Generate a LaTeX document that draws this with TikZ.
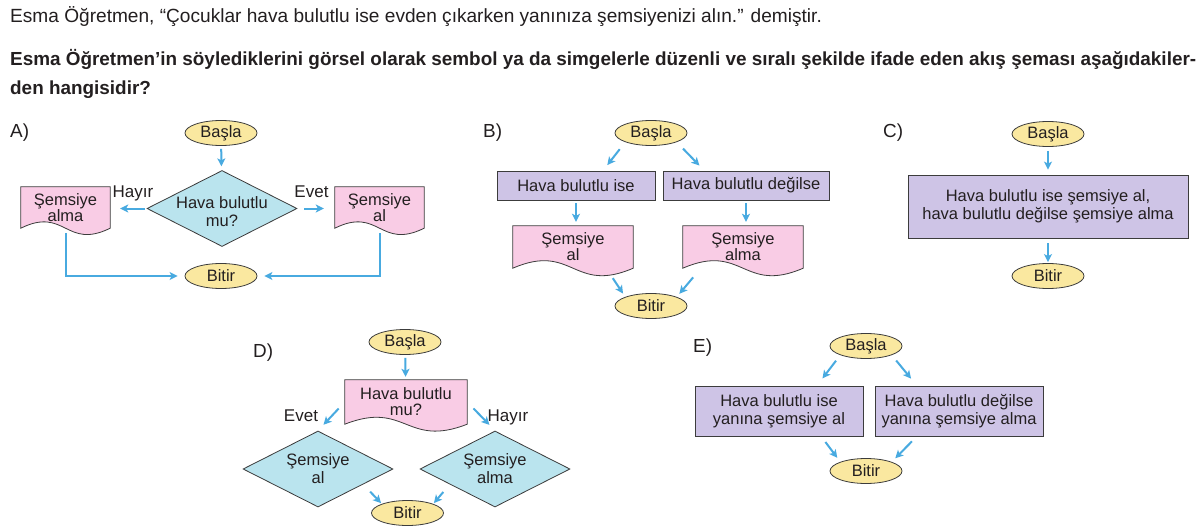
\documentclass[tikz,border=0pt]{standalone}
\usepackage{fontspec}
\setmainfont{Liberation Sans}
\usetikzlibrary{shapes.geometric,arrows.meta,calc}
\pgfdeclarelayer{background}
\pgfdeclarelayer{canvas}
\pgfsetlayers{canvas,background,main}
\definecolor{ellfill}{RGB}{250,232,160}
\definecolor{pinkfill}{RGB}{249,204,229}
\definecolor{bluefill}{RGB}{186,228,238}
\definecolor{purplefill}{RGB}{206,196,230}
\definecolor{arrblue}{RGB}{72,170,224}
\definecolor{edge}{RGB}{60,60,60}
\definecolor{txt}{RGB}{35,31,32}
\newcommand\docpath[2]{%
  \path[docline] (#1.south west) -- (#1.north west) -- (#1.north east) -- (#1.south east)
    .. controls ($(#1.south)+(0,#2)$) and ($(#1.south)+(0,-#2)$) .. (#1.south west) -- cycle;}
\begin{document}
\begin{tikzpicture}[x=1pt,y=-1pt,
  font=\fontsize{16.5}{18}\selectfont, text=txt,
  term/.style={ellipse, draw=edge, line width=0.8pt, fill=ellfill, minimum width=72, minimum height=25, inner sep=0pt},
  dec/.style={diamond, draw=edge, line width=0.8pt, fill=bluefill, minimum width=150, minimum height=76, inner sep=0pt},
  proc/.style={rectangle, draw=edge, line width=0.8pt, fill=purplefill, inner sep=0pt, align=center},
  docnode/.style={inner sep=0pt, align=center, font=\fontsize{16.5}{16}\selectfont},
  docline/.style={draw=edge, line width=0.8pt, fill=pinkfill},
  dectext/.style={align=center, inner sep=0pt, text=txt},
  lbl/.style={anchor=base, inner sep=0pt, font=\fontsize{17}{18}\selectfont},
  arr/.style={draw=arrblue, line width=2pt, -{Stealth[length=8pt,width=8pt,inset=2pt]}},
  hdr/.style={anchor=base west, inner sep=0pt, font=\fontsize{18.9}{20}\selectfont},
  hdrb/.style={hdr, font=\fontsize{18.9}{20}\selectfont\bfseries}
]
\begin{pgfonlayer}{canvas}
\fill[white] (0,0) rectangle (1204,532);
\end{pgfonlayer}
\useasboundingbox (0,0) rectangle (1204,532);

% header
\node[hdr, font=\fontsize{19.1}{20}\selectfont] (h1) at (10,23) {Esma Öğretmen, “Çocuklar hava bulutlu ise evden çıkarken yanınıza şemsiyenizi alın.” demiştir.};
\node[hdrb] (h2) at (10,66) {Esma Öğretmen’in söylediklerini görsel olarak sembol ya da simgelerle düzenli ve sıralı şekilde ifade eden akış şeması aşağıdakiler-};
\node[hdrb] (h3) at (10,95) {den hangisidir?};

% option labels
\node[hdr] (oa) at (10,137) {A)};
\node[hdr] (ob) at (483,137) {B)};
\node[hdr] (oc) at (883,137) {C)};
\node[hdr] (od) at (253,357) {D)};
\node[hdr] (oe) at (693,352) {E)};

% ---------- A ----------
\node[term] (aS) at (221,133) {Başla};
\node[dec, label={[dectext, yshift=-3pt]center:Hava bulutlu\\mu?}] (aD) at (222,208.5) {};
\node[docnode, minimum width=89, minimum height=41] (aL) at (65.5,207.5) {Şemsiye\\alma};
\node[docnode, minimum width=89, minimum height=41] (aR) at (379.5,207.5) {Şemsiye\\al};
\node[term] (aB) at (221,276) {Bitir};
\node[lbl] (aH) at (133,197) {Hayır};
\node[lbl] (aE) at (311.5,197) {Evet};
\begin{pgfonlayer}{background}
\docpath{aL}{22}
\docpath{aR}{22}
\end{pgfonlayer}
\draw[arr, shorten <=3pt, shorten >=4pt] (aS) -- (aD);
\draw[arr, shorten <=2pt, shorten >=10pt] (aD.west) -- (aL.east |- aD.west);
\draw[arr, shorten <=7pt, shorten >=11pt] (aD.east) -- (aR.west |- aD.east);
\draw[arr, shorten <=5pt, shorten >=7pt] (aL.south) |- (aB.west);
\draw[arr, shorten <=5pt, shorten >=7pt] (aR.south) |- (aB.east);

% ---------- B ----------
\node[term] (bS) at (651,133) {Başla};
\node[proc, minimum width=158, minimum height=29] (bL) at (576,185.5) {Hava bulutlu ise};
\node[proc, minimum width=166, minimum height=29] (bR) at (746,185.5) {Hava bulutlu değilse};
\node[docnode, minimum width=120, minimum height=42] (bDL) at (573,247) {Şemsiye\\al};
\node[docnode, minimum width=120, minimum height=42] (bDR) at (743,247) {Şemsiye\\alma};
\node[term] (bB) at (651,306) {Bitir};
\begin{pgfonlayer}{background}
\docpath{bDL}{26}
\docpath{bDR}{26}
\end{pgfonlayer}
\draw[arr, shorten <=9pt, shorten >=7pt] (bS.south west) -- ($(bL.north)!0.34!(bL.north east)$);
\draw[arr, shorten <=9pt, shorten >=7pt] (bS.south east) -- ($(bR.north)!0.5!(bR.north west)$);
\draw[arr, shorten <=3pt, shorten >=4pt] (bL.south) -- (bL.south |- bDL.north);
\draw[arr, shorten <=3pt, shorten >=4pt] (bR.south) -- (bR.south |- bDR.north);
\draw[arr, shorten <=12pt, shorten >=4pt] ($(bDL.south)!0.55!(bDL.south east)$) -- (bB.north west);
\draw[arr, shorten <=12pt, shorten >=4pt] ($(bDR.south)!0.7!(bDR.south west)$) -- (bB.north east);

% ---------- C ----------
\node[term] (cS) at (1048,134) {Başla};
\node[proc, minimum width=280, minimum height=63] (cX) at (1048,206.5) {Hava bulutlu ise şemsiye al,\\hava bulutlu değilse şemsiye alma};
\node[term] (cB) at (1048,276) {Bitir};
\draw[arr, shorten <=4pt, shorten >=5pt] (cS) -- (cX);
\draw[arr, shorten <=5pt, shorten >=1pt] (cX) -- (cB);

% ---------- D ----------
\node[term] (dS) at (405,342) {Başla};
\node[docnode, minimum width=122, minimum height=44] (dM) at (406,402) {Hava bulutlu\\mu?};
\node[dec, label={[dectext]center:Şemsiye\\al}] (dL) at (318,469) {};
\node[dec, label={[dectext]center:Şemsiye\\alma}] (dR) at (495,469) {};
\node[term] (dB) at (407.5,513) {Bitir};
\node[lbl] (dE) at (301,421) {Evet};
\node[lbl] (dH) at (508,421) {Hayır};
\begin{pgfonlayer}{background}
\docpath{dM}{24}
\end{pgfonlayer}
\draw[arr, shorten <=3pt, shorten >=3pt] (dS) -- (dM);
\draw[arr, shorten <=9pt, shorten >=8pt] (dM.west) -- (dL.north);
\draw[arr, shorten <=9pt, shorten >=8pt] (dM.east) -- (dR.north);
\draw[arr, shorten <=10pt, shorten >=1pt] ($(dL.east)!0.4!(dL.south)$) -- (dB.north west);
\draw[arr, shorten <=10pt, shorten >=1pt] ($(dR.west)!0.4!(dR.south)$) -- (dB.north east);

% ---------- E ----------
\node[term] (eS) at (866,346) {Başla};
\node[proc, minimum width=168, minimum height=50] (eL) at (779,411) {Hava bulutlu ise\\yanına şemsiye al};
\node[proc, minimum width=168, minimum height=50] (eR) at (959,411) {Hava bulutlu değilse\\yanına şemsiye alma};
\node[term] (eB) at (866,471) {Bitir};
\draw[arr, shorten <=7pt, shorten >=9pt] (eS.south west) -- ($(eL.north)!0.45!(eL.north east)$);
\draw[arr, shorten <=7pt, shorten >=9pt] (eS.south east) -- ($(eR.north)!0.5!(eR.north west)$);
\draw[arr, shorten <=7pt, shorten >=5pt] ($(eL.south)!0.5!(eL.south east)$) -- (eB.north west);
\draw[arr, shorten <=7pt, shorten >=5pt] ($(eR.south)!0.5!(eR.south west)$) -- (eB.north east);
\end{tikzpicture}
\end{document}
